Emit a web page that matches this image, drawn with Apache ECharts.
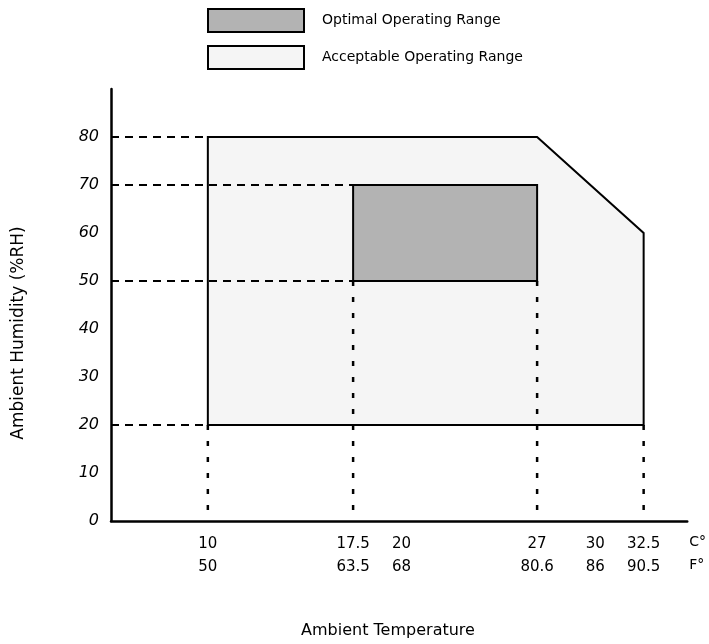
<!DOCTYPE html>
<html>
<head>
<meta charset="utf-8">
<script src="https://cdn.jsdelivr.net/npm/echarts@6/dist/echarts.min.js"></script>
<style>
  html, body { margin: 0; padding: 0; background: #fff; }
  #chart { width: 709px; height: 644px; }
</style>
</head>
<body>
<div id="chart"></div>
<script>
// 区域顶点（温度 °C / 湿度 %RH）
const acceptTemp = [10, 10, 27, 32.5, 32.5]
const acceptHum = [20, 80, 80, 60, 20]
const optimalTemp = [17.5, 17.5, 27, 27]
const optimalHum = [50, 70, 70, 50]

// 虚线辅助线
const hGuideHum = [80, 70, 50, 20]
const hGuideTemp = [10, 17.5, 17.5, 10]
const vGuideTemp = [10, 17.5, 27, 32.5]
const vGuideHum = [20, 50, 50, 20]

// 刻度标签
const celsiusTicks = [10, 17.5, 20, 27, 30, 32.5]
const fahrenheitTicks = ['50', '63.5', '68', '80.6', '86', '90.5']
const humidityTicks = [0, 10, 20, 30, 40, 50, 60, 70, 80]

const font = 'DejaVu Sans'
const xMin = 5
const yMin = 0

const polygonSeries = (name, xs, ys, fill) => ({
  name: name,
  type: 'custom',
  z: 2,
  itemStyle: { color: fill, borderColor: '#000', borderWidth: 2 },
  data: [[xs[0], ys[0]]],
  renderItem: (params, api) => {
    const points = xs.map((t, i) => api.coord([t, ys[i]]))
    return {
      type: 'polygon',
      shape: { points: points },
      style: { fill: fill, stroke: '#000', lineWidth: 2 }
    }
  }
})

const guides = []
hGuideHum.forEach((h, i) => {
  guides.push({
    type: 'line',
    z: 5,
    symbol: 'none',
    silent: true,
    data: [[xMin, h], [hGuideTemp[i], h]],
    lineStyle: { color: '#000', width: 2, type: [8, 6] }
  })
})
vGuideTemp.forEach((t, i) => {
  guides.push({
    type: 'line',
    z: 5,
    symbol: 'none',
    silent: true,
    data: [[t, vGuideHum[i]], [t, yMin]],
    lineStyle: { color: '#000', width: 2.5, type: [5, 11] }
  })
})

const chart = echarts.init(document.getElementById('chart'))
chart.setOption({
  animation: false,
  grid: { left: 111, right: 21, top: 89, bottom: 123 },
  title: {
    text: 'Ambient Temperature',
    left: 383,
    top: 618,
    textAlign: 'center',
    textStyle: { fontFamily: font, fontSize: 16, fontWeight: 'normal', color: '#000' }
  },
  legend: {
    orient: 'vertical',
    left: 207,
    top: 8,
    padding: 0,
    itemWidth: 96,
    itemHeight: 23,
    itemGap: 12,
    icon: 'rect',
    selectedMode: false,
    textStyle: { fontFamily: font, fontSize: 14, color: '#000', padding: [0, 0, 0, 13] },
    data: [
      { name: 'Optimal Operating Range', itemStyle: { color: '#b3b3b3', borderColor: '#000', borderWidth: 2 } },
      { name: 'Acceptable Operating Range', itemStyle: { color: '#f5f5f5', borderColor: '#000', borderWidth: 2 } }
    ]
  },
  xAxis: {
    type: 'value',
    min: xMin,
    max: 34.75,
    name: 'C°\nF°',
    nameLocation: 'end',
    nameGap: 2,
    nameTextStyle: {
      fontFamily: font, fontSize: 14, color: '#000', lineHeight: 23,
      align: 'left', verticalAlign: 'top', padding: [10, 0, 0, 0]
    },
    axisLine: { lineStyle: { color: '#000', width: 2.5 } },
    axisTick: { show: false },
    splitLine: { show: false },
    axisLabel: {
      customValues: celsiusTicks,
      margin: 12,
      fontFamily: font,
      fontSize: 15,
      color: '#000',
      lineHeight: 23,
      formatter: (v) => {
        const i = celsiusTicks.indexOf(v)
        return v + '\n' + (i >= 0 ? fahrenheitTicks[i] : '')
      }
    }
  },
  yAxis: {
    type: 'value',
    min: yMin,
    max: 90,
    interval: 10,
    name: 'Ambient Humidity (%RH)',
    nameLocation: 'middle',
    nameGap: 84,
    nameTextStyle: { fontFamily: font, fontSize: 17, color: '#000', padding: [0, 56, 0, 0] },
    axisLine: { show: true, lineStyle: { color: '#000', width: 2.5 } },
    axisTick: { show: false },
    splitLine: { show: false },
    axisLabel: {
      customValues: humidityTicks,
      margin: 12,
      fontFamily: font,
      fontSize: 16,
      fontStyle: 'italic',
      color: '#000'
    }
  },
  series: [
    polygonSeries('Acceptable Operating Range', acceptTemp, acceptHum, '#f5f5f5'),
    polygonSeries('Optimal Operating Range', optimalTemp, optimalHum, '#b3b3b3'),
    ...guides
  ]
})
</script>
</body>
</html>
